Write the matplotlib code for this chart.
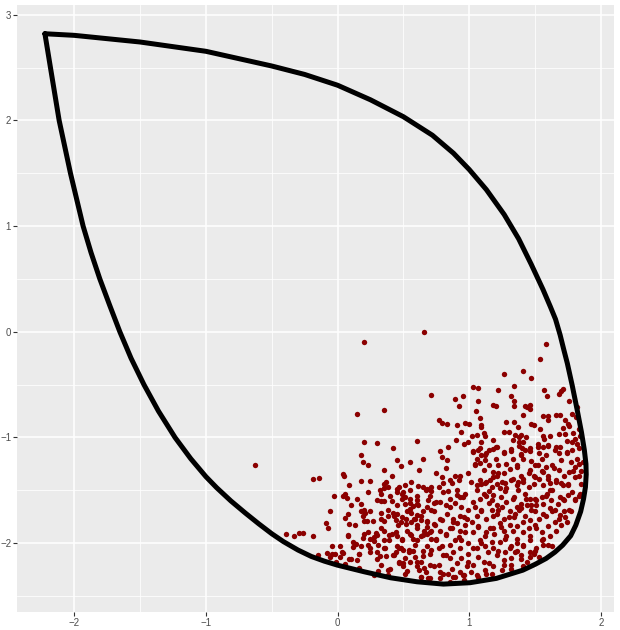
import numpy as np
import matplotlib.pyplot as plt

# boundary curve (closed path, clockwise from the top-left tip)
curve_x = [-2.222, -2.000, -1.500, -1.000, -0.500, -0.250, 0.000, 0.250, 0.500, 0.720,
           0.880, 1.000, 1.130, 1.265, 1.375, 1.470, 1.560, 1.615, 1.655, 1.690,
           1.718, 1.745, 1.782, 1.818, 1.852, 1.874, 1.886, 1.888, 1.882, 1.868,
           1.846, 1.809, 1.770, 1.709, 1.650, 1.583, 1.500, 1.407, 1.206, 1.005,
           0.804, 0.603, 0.402, 0.201, 0.000, -0.100, -0.200, -0.300, -0.411, -0.500,
           -0.600, -0.700, -0.810, -0.918, -1.000, -1.115, -1.234, -1.360, -1.470, -1.568,
           -1.653, -1.730, -1.805, -1.872, -1.932, -2.028, -2.114, -2.180, -2.222]
curve_y = [2.820, 2.805, 2.742, 2.654, 2.515, 2.435, 2.333, 2.195, 2.035, 1.860,
           1.690, 1.535, 1.345, 1.110, 0.880, 0.640, 0.400, 0.240, 0.119, -0.030,
           -0.170, -0.300, -0.509, -0.730, -0.950, -1.120, -1.250, -1.350, -1.470, -1.580,
           -1.700, -1.830, -1.930, -2.019, -2.085, -2.145, -2.200, -2.255, -2.333, -2.374,
           -2.387, -2.365, -2.327, -2.270, -2.208, -2.170, -2.125, -2.065, -1.985, -1.910,
           -1.815, -1.715, -1.600, -1.475, -1.370, -1.200, -1.000, -0.750, -0.500, -0.250,
           0.000, 0.250, 0.500, 0.750, 1.000, 1.500, 2.000, 2.500, 2.820]

# sample points (x, y)
points = [
    (0.66, 0.00), (0.20, -0.10), (0.71, -0.60), (0.35, -0.74), (0.15, -0.78), (-0.63, -1.26),
    # lower-left part of the cloud
    (0.20, -1.04), (0.30, -1.05), (0.42, -1.10), (0.60, -1.03), (0.18, -1.17), (0.45, -1.21),
    (0.19, -1.23), (0.55, -1.23), (0.65, -1.20), (0.23, -1.26), (0.48, -1.27), (0.35, -1.31),
    (0.62, -1.31), (-0.19, -1.39), (-0.14, -1.38), (0.04, -1.35), (0.41, -1.36), (0.18, -1.41),
    (0.25, -1.41), (0.37, -1.42), (0.35, -1.44), (0.56, -1.42), (0.38, -1.47), (0.51, -1.45),
    (0.47, -1.47), (0.61, -1.46), (0.71, -1.47), (0.68, -1.49), (0.45, -1.49), (0.32, -1.50),
    (0.55, -1.50), (0.33, -1.53), (0.06, -1.53), (-0.03, -1.55), (0.07, -1.57), (0.45, -1.52),
    (0.49, -1.53), (0.51, -1.56), (0.60, -1.55), (0.67, -1.50), (0.71, -1.51), (0.33, -1.60),
    (0.35, -1.60), (0.41, -1.60), (0.49, -1.58), (0.60, -1.59), (0.55, -1.62), (0.69, -1.59),
    (0.73, -1.62), (0.18, -1.63), (0.51, -1.63), (0.57, -1.65), (0.61, -1.64), (0.68, -1.66),
    (0.55, -1.68), (-0.06, -1.70), (0.20, -1.69), (0.33, -1.71), (0.21, -1.71), (0.42, -1.71),
    (0.45, -1.72), (0.56, -1.71), (0.65, -1.70), (0.71, -1.69), (0.08, -1.72), (0.19, -1.74),
    (0.38, -1.74), (0.49, -1.75), (0.60, -1.73), (0.52, -1.77), (0.59, -1.77), (0.44, -1.78),
    (0.20, -1.79), (0.22, -1.79), (0.27, -1.79), (0.35, -1.79), (0.56, -1.80), (0.63, -1.78),
    (0.68, -1.79), (0.73, -1.82), (-0.09, -1.81), (0.09, -1.82), (0.46, -1.83), (0.52, -1.82),
    (0.60, -1.83), (-0.07, -1.86), (0.68, -1.85), (0.35, -1.88), (0.53, -1.88), (0.66, -1.88),
    (0.71, -1.88), (-0.39, -1.91), (-0.29, -1.90), (-0.26, -1.90), (-0.33, -1.93), (-0.19, -1.93),
    (0.20, -1.91), (0.29, -1.90), (0.30, -1.92), (0.41, -1.91), (0.45, -1.93), (0.56, -1.92),
    (0.63, -1.93), (0.68, -1.91), (0.08, -1.93), (0.25, -1.96), (0.28, -1.98), (0.35, -1.97),
    (0.39, -1.97), (0.49, -1.96), (0.57, -1.96), (0.60, -1.97), (0.71, -1.96), (0.12, -1.99),
    (0.23, -2.02), (0.31, -2.02), (0.18, -2.03), (-0.04, -2.03), (0.02, -2.03), (0.12, -2.04),
    (0.45, -2.03), (0.47, -2.05), (0.59, -2.02), (0.68, -2.03), (0.25, -2.08), (0.35, -2.05),
    (0.44, -2.08), (0.50, -2.06), (0.54, -2.06), (0.57, -2.07), (0.71, -2.06), (-0.08, -2.09),
    (-0.04, -2.10), (-0.02, -2.10), (0.04, -2.09), (-0.15, -2.11), (0.16, -2.10), (-0.06, -2.13),
    (0.02, -2.13), (0.32, -2.12), (0.37, -2.12), (0.42, -2.11), (0.65, -2.12), (0.09, -2.15),
    (0.15, -2.16), (0.30, -2.15), (0.51, -2.14), (-0.01, -2.18), (0.47, -2.18), (0.50, -2.19),
    (0.55, -2.18), (0.60, -2.18), (0.63, -2.18), (0.70, -2.21), (0.06, -2.20), (0.16, -2.23),
    (0.50, -2.22), (0.66, -2.23), (0.31, -2.26), (0.38, -2.25), (0.62, -2.25), (0.38, -2.30),
    (0.51, -2.29), (0.63, -2.32), (0.69, -2.33), (0.28, -2.30),
    (0.23, -1.52), (0.30, -1.59), (0.35, -1.48), (0.40, -1.55), (0.45, -1.64), (0.50, -1.52),
    (0.55, -1.58), (0.60, -1.63), (0.65, -1.47), (0.70, -1.55), (0.75, -1.61), (0.80, -1.52),
    (0.85, -1.58), (0.91, -1.50), (0.95, -1.56),
    (0.25, -1.70), (0.33, -1.77), (0.38, -1.69), (0.43, -1.74), (0.48, -1.80), (0.53, -1.70),
    (0.58, -1.77), (0.63, -1.74), (0.68, -1.80), (0.73, -1.70), (0.78, -1.77), (0.83, -1.72),
    (0.88, -1.80), (0.93, -1.74), (0.98, -1.77),
    (0.23, -1.89), (0.28, -1.94), (0.33, -1.86), (0.39, -1.92), (0.44, -1.89), (0.49, -1.97),
    (0.55, -1.91), (0.60, -1.86), (0.65, -1.92), (0.70, -1.89), (0.75, -1.96), (0.82, -1.91),
    (0.87, -1.86), (0.92, -1.94), (0.97, -1.89),
    (0.25, -2.05), (0.30, -2.08), (0.36, -2.05), (0.43, -2.11), (0.48, -2.05), (0.54, -2.08),
    (0.59, -2.13), (0.65, -2.07), (0.70, -2.10), (0.77, -2.05), (0.82, -2.11), (0.88, -2.08),
    (0.93, -2.05), (0.99, -2.10),
    (0.33, -2.21), (0.40, -2.24), (0.47, -2.19), (0.53, -2.26), (0.60, -2.22), (0.67, -2.27),
    (0.73, -2.22), (0.80, -2.29), (0.87, -2.24), (0.93, -2.27), (0.98, -2.22),
    (0.63, -2.32), (0.70, -2.33), (0.78, -2.33), (0.88, -2.32), (0.95, -2.30),
    (0.05, -1.36), (0.09, -1.45), (0.04, -1.55), (0.10, -1.64), (0.15, -1.58), (0.06, -1.76),
    (0.13, -1.83), (0.18, -1.70), (0.08, -1.92), (0.14, -2.01), (0.19, -1.95), (0.03, -2.08),
    (0.10, -2.15), (0.16, -2.10),
    # lower-right part of the cloud
    (0.84, -1.09), (0.96, -1.06), (0.99, -1.04), (1.03, -1.13), (1.08, -1.10), (1.12, -1.17),
    (1.15, -1.12), (1.20, -1.09), (1.26, -1.15), (1.32, -1.13), (1.39, -1.17), (1.40, -1.10),
    (1.46, -1.13), (1.52, -1.09), (1.58, -1.17), (1.60, -1.07), (1.65, -1.12), (1.69, -1.09),
    (1.74, -1.15), (1.78, -1.04), (1.83, -1.10), (0.78, -1.13),
    (0.79, -1.18), (0.83, -1.21), (1.04, -1.25), (1.08, -1.24), (1.12, -1.21), (1.20, -1.20),
    (1.22, -1.26), (1.28, -1.25), (1.36, -1.28), (1.41, -1.20), (1.50, -1.26), (1.55, -1.20),
    (1.58, -1.28), (1.64, -1.29), (1.70, -1.21), (1.77, -1.23), (1.83, -1.25), (1.85, -1.32),
    (1.79, -1.32), (0.75, -1.34), (0.82, -1.29), (0.89, -1.36), (0.93, -1.36),
    (0.79, -1.37), (0.80, -1.43), (0.85, -1.40), (0.87, -1.43), (0.92, -1.40), (0.99, -1.34),
    (1.01, -1.42), (1.08, -1.40), (1.12, -1.43), (1.16, -1.40), (1.18, -1.37), (1.22, -1.34),
    (1.27, -1.43), (1.32, -1.40), (1.37, -1.42), (1.41, -1.39), (1.45, -1.34), (1.50, -1.37),
    (1.55, -1.32), (1.60, -1.39), (1.61, -1.43), (1.66, -1.40), (1.70, -1.43), (1.75, -1.45),
    (1.80, -1.37), (0.77, -1.47),
    (0.84, -1.51), (0.91, -1.54), (0.93, -1.56), (0.97, -1.53), (1.06, -1.50), (1.11, -1.53),
    (1.15, -1.51), (1.18, -1.54), (1.23, -1.48), (1.27, -1.51), (1.34, -1.56), (1.37, -1.50),
    (1.42, -1.53), (1.46, -1.58), (1.50, -1.58), (1.55, -1.56), (1.59, -1.53), (1.63, -1.50),
    (1.69, -1.56), (1.72, -1.59), (1.75, -1.54), (1.80, -1.58), (1.84, -1.53), (0.78, -1.61),
    (0.82, -1.64), (0.85, -1.66),
    (0.89, -1.62), (0.94, -1.66), (0.99, -1.69), (1.04, -1.66), (1.09, -1.70), (1.15, -1.62),
    (1.17, -1.69), (1.21, -1.72), (1.25, -1.66), (1.30, -1.75), (1.35, -1.72), (1.39, -1.67),
    (1.44, -1.64), (1.47, -1.69), (1.51, -1.64), (1.56, -1.72), (1.61, -1.67), (1.65, -1.69),
    (1.69, -1.73), (1.73, -1.75), (1.77, -1.70), (0.79, -1.78), (0.88, -1.77), (0.96, -1.75),
    (0.74, -1.83), (0.78, -1.88), (0.82, -1.92), (0.85, -1.86), (0.91, -1.81), (0.93, -1.88),
    (0.97, -1.83), (1.02, -1.80), (1.07, -1.84), (1.13, -1.89), (1.18, -1.86), (1.23, -1.81),
    (1.26, -1.88), (1.31, -1.83), (1.36, -1.84), (1.41, -1.80), (1.45, -1.86), (1.50, -1.83),
    (1.55, -1.89), (1.60, -1.84), (1.65, -1.80), (1.70, -1.83), (1.74, -1.80),
    (0.75, -1.97), (0.79, -2.03), (0.85, -2.02), (0.89, -1.97), (0.94, -1.97), (0.99, -2.00),
    (1.03, -2.05), (1.08, -1.97), (1.12, -2.03), (1.17, -1.99), (1.22, -2.07), (1.27, -1.96),
    (1.31, -2.05), (1.36, -2.00), (1.41, -2.03), (1.46, -1.97), (1.50, -2.07), (1.55, -1.97),
    (1.60, -2.02), (1.63, -2.03),
    (0.77, -2.21), (0.80, -2.11), (0.85, -2.14), (0.91, -2.19), (0.94, -2.14), (0.99, -2.18),
    (1.07, -2.13), (1.15, -2.19), (1.21, -2.11), (1.26, -2.21), (1.32, -2.14), (1.39, -2.11),
    (1.44, -2.18), (1.49, -2.10), (1.53, -2.13), (1.35, -2.08),
    (0.78, -2.27), (0.84, -2.29), (0.89, -2.32), (0.96, -2.30), (1.01, -2.27), (1.07, -2.32),
    (1.12, -2.25), (1.17, -2.29), (1.25, -2.25), (1.32, -2.24), (1.41, -2.22), (0.96, -2.35),
    (0.85, -2.37),
    (1.03, -1.14), (1.06, -1.20), (1.07, -1.12), (1.09, -1.17), (1.13, -1.15), (1.18, -1.11),
    (1.21, -1.09), (1.26, -1.14), (1.32, -1.11), (1.33, -1.20), (1.38, -1.08), (1.39, -1.16),
    (1.42, -1.12), (1.46, -1.10), (1.47, -1.22), (1.53, -1.15), (1.56, -1.09), (1.60, -1.08),
    (1.66, -1.09), (1.68, -1.15), (1.74, -1.14), (1.78, -1.12), (1.82, -1.20), (1.86, -1.23),
    (1.04, -1.26), (1.11, -1.31), (1.15, -1.26), (1.18, -1.33), (1.21, -1.36), (1.26, -1.34),
    (1.31, -1.30), (1.36, -1.26), (1.39, -1.36), (1.46, -1.31), (1.49, -1.36), (1.52, -1.26),
    (1.56, -1.33), (1.60, -1.36), (1.63, -1.26), (1.68, -1.31), (1.72, -1.36), (1.76, -1.33),
    (1.80, -1.28), (1.83, -1.36),
    (1.06, -1.45), (1.09, -1.44), (1.13, -1.42), (1.17, -1.47), (1.21, -1.44), (1.25, -1.42),
    (1.28, -1.48), (1.33, -1.39), (1.36, -1.45), (1.41, -1.42), (1.45, -1.47), (1.49, -1.44),
    (1.53, -1.39), (1.56, -1.45), (1.61, -1.50), (1.66, -1.42), (1.71, -1.45), (1.75, -1.44),
    (1.78, -1.52), (1.85, -1.44),
    (1.03, -1.61), (1.08, -1.58), (1.13, -1.55), (1.17, -1.59), (1.21, -1.64), (1.24, -1.56),
    (1.28, -1.61), (1.33, -1.58), (1.36, -1.66), (1.39, -1.63), (1.43, -1.58), (1.47, -1.64),
    (1.51, -1.59), (1.56, -1.63), (1.58, -1.55), (1.62, -1.59), (1.67, -1.63), (1.71, -1.58),
    (1.76, -1.69), (1.80, -1.59), (1.83, -1.55),
    (1.06, -1.74), (1.09, -1.69), (1.13, -1.77), (1.18, -1.74), (1.22, -1.69), (1.26, -1.77),
    (1.31, -1.70), (1.34, -1.75), (1.38, -1.69), (1.42, -1.74), (1.46, -1.78), (1.50, -1.70),
    (1.53, -1.77), (1.58, -1.74), (1.63, -1.70), (1.68, -1.77), (1.72, -1.70),
    (1.03, -1.89), (1.07, -1.85), (1.12, -1.93), (1.16, -1.86), (1.19, -1.91), (1.24, -1.85),
    (1.28, -1.93), (1.33, -1.88), (1.36, -1.96), (1.41, -1.89), (1.46, -1.93), (1.51, -1.86),
    (1.56, -1.96), (1.61, -1.93), (1.66, -1.88),
    (1.06, -2.05), (1.09, -2.00), (1.14, -2.08), (1.18, -2.05), (1.23, -1.99), (1.27, -2.08),
    (1.32, -2.03), (1.36, -2.07), (1.41, -2.02), (1.46, -2.08), (1.51, -2.05), (1.56, -2.02),
    (1.03, -2.21), (1.11, -2.18), (1.18, -2.22), (1.26, -2.16), (1.32, -2.21), (1.39, -2.15),
    (1.46, -2.13), (1.06, -2.30), (1.13, -2.29),
    # upper-right part of the cloud
    (1.58, -0.12), (1.54, -0.26), (1.26, -0.40), (1.41, -0.37), (1.47, -0.44), (1.03, -0.52),
    (1.07, -0.53), (1.34, -0.51), (1.22, -0.55), (1.57, -0.55), (1.71, -0.54), (1.70, -0.56),
    (1.68, -0.59), (1.59, -0.61), (0.95, -0.61), (0.89, -0.64), (1.07, -0.65), (1.32, -0.61),
    (1.34, -0.65), (1.76, -0.65), (0.92, -0.70), (1.18, -0.69), (1.20, -0.70), (1.34, -0.70),
    (1.42, -0.70), (1.44, -0.71), (1.46, -0.69), (1.46, -0.73), (1.05, -0.75), (1.82, -0.71),
    (0.77, -0.83), (0.79, -0.86), (0.83, -0.87), (1.08, -0.82), (0.97, -0.86), (1.00, -0.87),
    (1.09, -0.88), (1.09, -0.90), (0.91, -0.88), (1.28, -0.85), (1.34, -0.85), (1.41, -0.79),
    (1.56, -0.80), (1.60, -0.80), (1.60, -0.83), (1.66, -0.79), (1.69, -0.79), (1.73, -0.83),
    (1.78, -0.78), (1.81, -0.81), (1.75, -0.87), (1.76, -0.89), (1.47, -0.87), (1.49, -0.88),
    (1.37, -0.90), (0.94, -0.95), (1.26, -0.95), (1.30, -0.95), (1.54, -0.92), (1.71, -0.91),
    (1.83, -0.92), (1.11, -0.96), (1.12, -0.99), (1.06, -0.98), (1.02, -0.99), (1.35, -0.98),
    (1.39, -0.98), (1.38, -1.00), (1.43, -1.00), (1.56, -0.99), (1.61, -0.99), (1.57, -1.01),
    (1.68, -0.97), (1.73, -0.97), (1.79, -0.96), (1.80, -1.01), (1.74, -1.03), (0.90, -1.02),
    (1.09, -1.04), (1.18, -1.02), (1.33, -1.02), (1.38, -1.04), (1.41, -1.04), (1.52, -1.06),
    (1.82, -1.06), (1.84, -0.99),
]

pts_x = [p[0] for p in points]
pts_y = [p[1] for p in points]

plt.rcParams['font.family'] = ['Liberation Sans', 'DejaVu Sans']

fig = plt.figure(figsize=(6.2, 6.3), dpi=100)
ax = fig.add_axes([17 / 620, 1 - 612 / 630, 597 / 620, 607 / 630])

ax.set_facecolor('#EBEBEB')
for s in ax.spines.values():
    s.set_visible(False)

xt = [-2, -1, 0, 1, 2]
yt = [-2, -1, 0, 1, 2, 3]
ax.set_xticks(xt)
ax.set_yticks(yt)
ax.set_xticks([-1.5, -0.5, 0.5, 1.5], minor=True)
ax.set_yticks([-2.5, -1.5, -0.5, 0.5, 1.5, 2.5], minor=True)
ax.grid(which='major', color='white', linewidth=1.1)
ax.grid(which='minor', color='white', linewidth=0.55)
ax.set_axisbelow(True)
ax.tick_params(which='major', length=2.7, width=0.8, color='#333333',
               labelsize=7, labelcolor='#4D4D4D', pad=1.5)
ax.tick_params(which='minor', length=0)

ax.scatter(pts_x, pts_y, s=15, color='#8B0000', linewidths=0, zorder=2)
ax.plot(curve_x, curve_y, color='black', linewidth=3.6, solid_joinstyle='round',
        solid_capstyle='round', zorder=3)

ax.set_xlim(-2.434, 2.099)
ax.set_ylim(-2.651, 3.092)

fig.savefig('out.png', dpi=100)
